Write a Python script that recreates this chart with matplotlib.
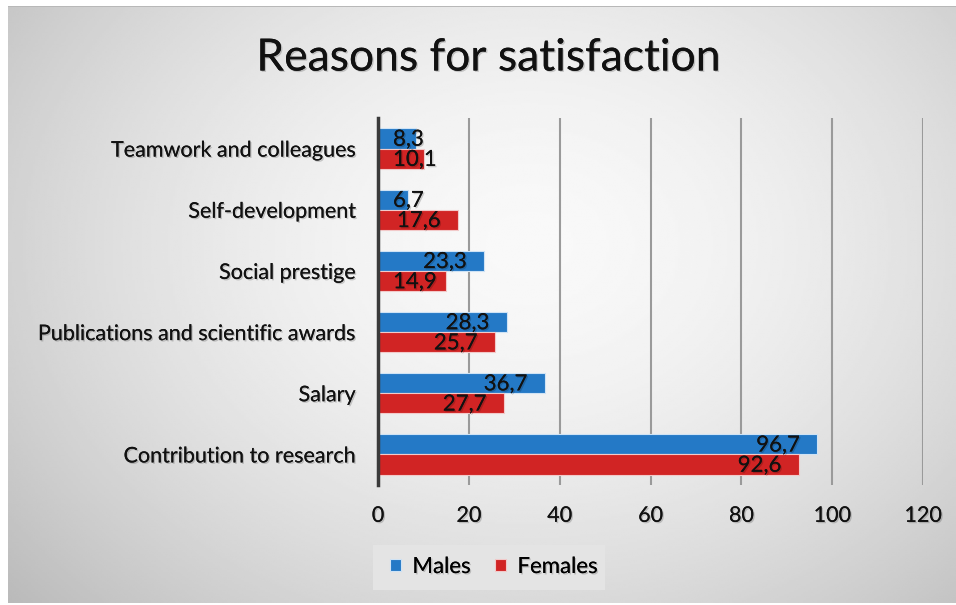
import numpy as np
import matplotlib.pyplot as plt
import matplotlib.patheffects as pe
from matplotlib.patches import Rectangle

# survey data, categories listed top to bottom
categories = ['Teamwork and colleagues', 'Self-development', 'Social prestige',
              'Publications and scientific awards', 'Salary', 'Contribution to research']
males = [8.3, 6.7, 23.3, 28.3, 36.7, 96.7]
females = [10.1, 17.6, 14.9, 25.7, 27.7, 92.6]
xticks = [0, 20, 40, 60, 80, 100, 120]

BLUE = '#2479c6'
RED = '#d12424'
FONT = 'Lato'

W, H = 956, 605
fig = plt.figure(figsize=(W / 100, H / 100), dpi=100)
fig.patch.set_facecolor('white')

# radial grey background of the chart area
bg = fig.add_axes([0, 0, 1, 1], zorder=-10)
bg.set_xlim(0, W)
bg.set_ylim(H, 0)
bg.axis('off')
gx, gy = np.meshgrid(np.linspace(0, 1, 400), np.linspace(0, 1, 300))
r = np.sqrt(((gx - 0.55) / 0.65) ** 2 + ((gy - 0.4) / 0.8) ** 2)
shade = 0.975 - 0.2 * np.clip(r, 0, 1.3) ** 1.7
bg.imshow(shade, cmap='gray', vmin=0, vmax=1, extent=[8, W, 603, 6],
          aspect='auto', interpolation='bilinear')
bg.add_patch(Rectangle((8, 5.5), W - 8, 1.5, color='#b8b8b8', lw=0))
# legend box
bg.add_patch(Rectangle((373, 545), 605 - 373, 45, facecolor='#e4e4e4', edgecolor='none'))

shadow = [pe.withSimplePatchShadow(offset=(1, -1), shadow_rgbFace='black', alpha=0.18),
          pe.Normal()]

ax = fig.add_axes([378 / W, 1 - 485 / H, (923 - 378) / W, (485 - 118) / H])
ax.patch.set_alpha(0)

y = np.arange(len(categories))
h = 0.33
ax.barh(y - h / 2, males, height=h, color=BLUE, edgecolor='#cfe3f5', linewidth=0.8,
        label='Males', zorder=3)
ax.barh(y + h / 2, females, height=h, color=RED, edgecolor='#f2c9c9', linewidth=0.8,
        label='Females', zorder=3)

ax.set_xlim(0, 120)
ax.set_ylim(len(categories) - 0.5, -0.5)
ax.set_xticks(xticks)
ax.set_yticks(y)
ax.set_yticklabels(categories)
ax.tick_params(axis='both', length=0, labelsize=15.5, colors='#111111')
ax.tick_params(axis='x', pad=15)
ax.tick_params(axis='y', pad=16)
for lab in ax.get_xticklabels() + ax.get_yticklabels():
    lab.set_fontfamily(FONT)
    lab.set_path_effects(shadow)

ax.grid(axis='x', color='#9a9a9a', linewidth=1.5, zorder=0)
ax.grid(axis='y', visible=False)
for s in ['top', 'right', 'bottom']:
    ax.spines[s].set_visible(False)
ax.spines['left'].set_color('#3a3a3a')
ax.spines['left'].set_linewidth(2.5)
ax.spines['left'].set_zorder(4)

# value labels inside the bar ends, pushed right of the axis for short bars
fig.canvas.draw()
renderer = fig.canvas.get_renderer()
x0_px = ax.transData.transform((0, 0))[0]
for vals, off in [(males, -h / 2), (females, h / 2)]:
    for yi, v in zip(y, vals):
        t = ax.annotate(f'{v:.1f}'.replace('.', ','), xy=(v, yi + off + 0.02),
                        xytext=(-17, 0), textcoords='offset pixels', ha='right',
                        va='center', fontsize=16, fontfamily=FONT, color='#111111',
                        zorder=5, path_effects=shadow)
        bb = t.get_window_extent(renderer)
        if bb.x0 < x0_px + 15:
            t.xy = (0, yi + off + 0.02)
            t.xyann = (15, 0)
            t.set_ha('left')

fig.text(489 / W, 1 - 58 / H, 'Reasons for satisfaction', ha='center', va='center',
         fontsize=32, fontfamily=FONT, color='#111111', path_effects=shadow)

leg = ax.legend(loc='center', bbox_to_anchor=(494 / W, 1 - 567 / H),
                bbox_transform=fig.transFigure, ncol=2, frameon=False,
                handlelength=0.5, handleheight=0.5, handletextpad=0.5,
                columnspacing=1.1, prop={'family': FONT, 'size': 16})
for txt in leg.get_texts():
    txt.set_path_effects(shadow)

fig.savefig('out.png', dpi=100, facecolor='white')
